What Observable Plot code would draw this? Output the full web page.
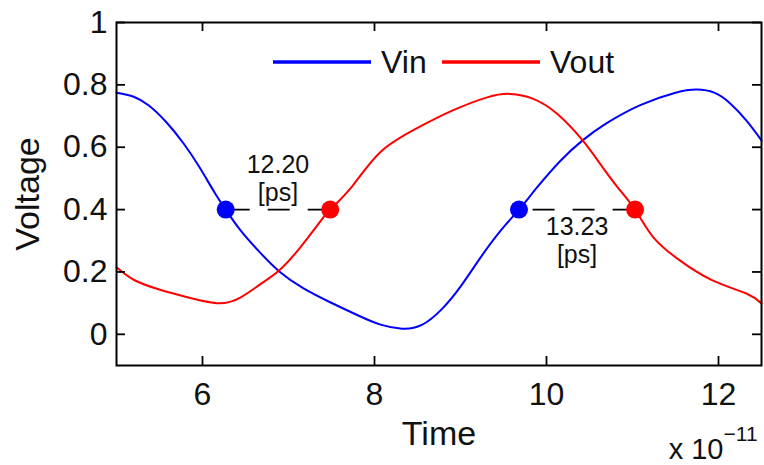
<!DOCTYPE html>
<html><head><meta charset="utf-8">
<script src="https://cdn.jsdelivr.net/npm/d3@7"></script>
<script src="https://cdn.jsdelivr.net/npm/@observablehq/plot@0.6"></script>
<style>
body{margin:0;background:#fff}
#chart{position:relative;width:764px;height:465px}
</style>
</head><body><div id="chart"></div>
<script>
// Time in units of 1e-11 s
const vinT = [5.00,5.20,5.38,5.58,5.78,5.96,6.14,6.27,6.44,6.67,6.90,7.17,7.49,7.83,8.07,8.32,8.55,8.78,9.00,9.23,9.46,9.68,9.89,10.16,10.42,10.70,11.09,11.50,11.75,11.95,12.13,12.33,12.50];
const vinV = [0.775,0.762,0.733,0.680,0.612,0.538,0.455,0.400,0.334,0.262,0.200,0.148,0.102,0.058,0.031,0.018,0.030,0.080,0.153,0.245,0.330,0.400,0.471,0.556,0.622,0.677,0.735,0.775,0.785,0.775,0.742,0.684,0.622];
const voutT = [5.00,5.20,5.47,5.78,6.17,6.44,6.67,6.90,7.14,7.37,7.485,7.75,8.07,8.50,8.91,9.31,9.58,9.84,10.12,10.42,10.62,10.82,11.03,11.24,11.55,11.93,12.33,12.50];
const voutV = [0.215,0.175,0.146,0.122,0.100,0.118,0.160,0.207,0.280,0.362,0.400,0.478,0.585,0.662,0.718,0.760,0.771,0.756,0.708,0.622,0.548,0.474,0.400,0.312,0.237,0.173,0.130,0.099];
const seriesNames = ["Vin", "Vout"];
const seriesColors = ["#0000ff", "#ff0000"];
const crossIn = [6.27, 9.68];
const crossOut = [7.485, 11.03];
const threshold = 0.4;
const delayLabels = ["12.20", "13.23"];
const unitLabel = "[ps]";
const xTicks = [6, 8, 10, 12];
const yTicks = [0, 0.2, 0.4, 0.6, 0.8, 1];

const vin = vinT.map((t, i) => ({t, v: vinV[i]}));
const vout = voutT.map((t, i) => ({t, v: voutV[i]}));
const dotsIn = crossIn.map(t => ({t, v: threshold}));
const dotsOut = crossOut.map(t => ({t, v: threshold}));
const spans = crossIn.map((t, i) => ({x1: crossOut[i], x2: t, y: threshold, mid: (t + crossOut[i]) / 2, label: delayLabels[i]}));

const W = 764, H = 465, mL = 116, mT = 22, mR = 3, mB = 100;
const fw = W - mL - mR, fh = H - mT - mB, tickLen = 9;
const font = "'Liberation Sans', Arial, Helvetica, sans-serif";
const tickStyle = {stroke: "#000", strokeWidth: 1.8};

const plot = Plot.plot({
  width: W, height: H,
  marginLeft: mL, marginTop: mT, marginRight: mR, marginBottom: mB,
  x: {domain: [5, 12.5]},
  y: {domain: [-0.1, 1]},
  style: {fontFamily: font, fontSize: "32px", color: "#111", background: "#fff", overflow: "visible"},
  marks: [
    Plot.line(vin, {x: "t", y: "v", stroke: seriesColors[0], strokeWidth: 2, curve: "natural"}),
    Plot.line(vout, {x: "t", y: "v", stroke: seriesColors[1], strokeWidth: 2, curve: "natural"}),
    Plot.ruleY(spans, {x1: "x1", x2: "x2", y: "y", stroke: "#000", strokeWidth: 1.6, strokeDasharray: "22,18"}),
    Plot.dot(dotsIn, {x: "t", y: "v", r: 9, fill: seriesColors[0], stroke: "none"}),
    Plot.dot(dotsOut, {x: "t", y: "v", r: 9, fill: seriesColors[1], stroke: "none"}),
    // delay labels
    Plot.text([spans[0]], {x: "mid", y: "y", text: "label", fontSize: 25, dy: -45, lineAnchor: "middle", fill: "#111"}),
    Plot.text([spans[0]], {x: "mid", y: "y", text: () => unitLabel, fontSize: 25, dy: -17, lineAnchor: "middle", fill: "#111"}),
    Plot.text([spans[1]], {x: "mid", y: "y", text: "label", fontSize: 25, dy: 17, lineAnchor: "middle", fill: "#111"}),
    Plot.text([spans[1]], {x: "mid", y: "y", text: () => unitLabel, fontSize: 25, dy: 45, lineAnchor: "middle", fill: "#111"}),
    // inward ticks on all four sides
    Plot.tickX(xTicks, {x: d => d, insetTop: fh - tickLen, ...tickStyle}),
    Plot.tickX(xTicks, {x: d => d, insetBottom: fh - tickLen, ...tickStyle}),
    Plot.tickY(yTicks, {y: d => d, insetRight: fw - tickLen, ...tickStyle}),
    Plot.tickY(yTicks, {y: d => d, insetLeft: fw - tickLen, ...tickStyle}),
    Plot.axisX({ticks: xTicks, tickSize: 0, tickPadding: 17, label: null, tickFormat: d => String(d)}),
    Plot.axisY({ticks: yTicks, tickSize: 0, tickPadding: 9, label: null, tickFormat: d => String(d)}),
    Plot.frame({stroke: "#000", strokeWidth: 2}),
    // axis titles
    Plot.text(["Time"], {frameAnchor: "bottom", dy: 69, textAnchor: "middle", lineAnchor: "middle", fontSize: 34, fill: "#111"}),
    Plot.text(["Voltage"], {frameAnchor: "left", dx: -88, rotate: -90, textAnchor: "middle", lineAnchor: "middle", fontSize: 34, fill: "#111"}),
    Plot.text(["x 10"], {frameAnchor: "bottom-right", dx: -38, dy: 84, textAnchor: "end", lineAnchor: "middle", fontSize: 29, fill: "#111"}),
    Plot.text(["\u221211"], {frameAnchor: "bottom-right", dx: -38, dy: 69, textAnchor: "start", lineAnchor: "middle", fontSize: 21, fill: "#111"})
  ]
});

// legend inside the frame, near the top
const svg = d3.select(plot);
const lg = svg.append("g").attr("font-family", font).attr("font-size", 32).attr("fill", "#111").attr("text-anchor", "start");
const legendX = [273, 442], lineLen = 98, ly = 62;
seriesNames.forEach((name, i) => {
  lg.append("line").attr("x1", legendX[i]).attr("x2", legendX[i] + lineLen)
    .attr("y1", ly).attr("y2", ly).attr("stroke", seriesColors[i]).attr("stroke-width", 3.5);
  lg.append("text").attr("x", legendX[i] + lineLen + 10).attr("y", ly + 11).attr("text-anchor", "start").text(name);
});

document.getElementById("chart").appendChild(plot);
</script>
</body></html>
